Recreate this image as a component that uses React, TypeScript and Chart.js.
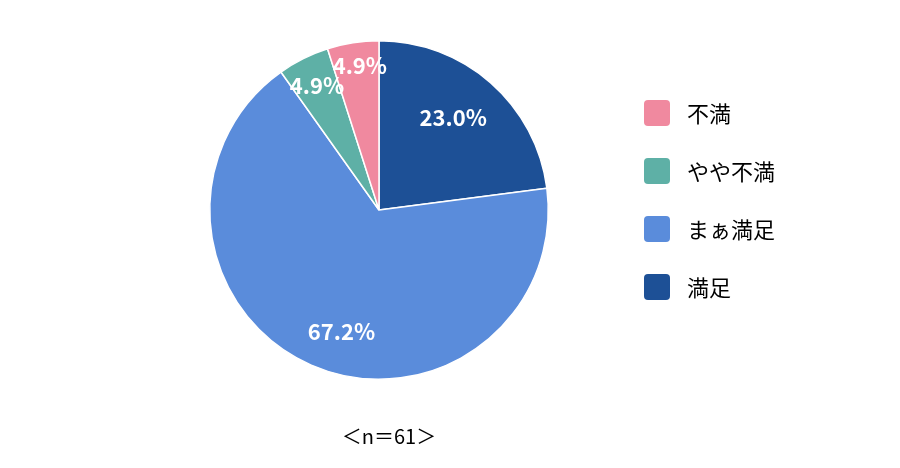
import { useRef, useEffect } from "react";
import { Chart, registerables, Plugin } from "chart.js";

Chart.register(...registerables);

// slices clockwise from 12 o'clock
const categories = ["満足", "まぁ満足", "やや不満", "不満"];
const counts = [14, 41, 3, 3];
const colors = ["#1D5096", "#5A8CDB", "#5EB0A6", "#F0899F"];
const sampleNote = "＜n＝61＞";

// legend is listed bottom-up relative to the data order
const legendOrder = [3, 2, 1, 0];

const FONT = "'Noto Sans CJK JP', 'Noto Sans', sans-serif";

const sliceLabels: Plugin<"pie"> = {
    id: "sliceLabels",
    afterDatasetsDraw(chart) {
        const ctx = chart.ctx;
        const meta = chart.getDatasetMeta(0);
        const total = counts.reduce((a, b) => a + b, 0);
        // label placement tweaks (fraction of radius, degrees)
        const radial = [0.7, 0.75, 0.82, 0.86];
        const shift = [-2.5, -6.4, 0, 1.3];
        ctx.save();
        ctx.fillStyle = "#ffffff";
        ctx.font = `bold 22px ${FONT}`;
        ctx.textAlign = "center";
        ctx.textBaseline = "middle";
        meta.data.forEach((el: any, i) => {
            const mid = (el.startAngle + el.endAngle) / 2 + (shift[i] * Math.PI) / 180;
            const r = el.outerRadius * radial[i];
            const x = el.x + Math.cos(mid) * r;
            const y = el.y + Math.sin(mid) * r;
            ctx.fillText(((counts[i] / total) * 100).toFixed(1) + "%", x, y);
        });
        ctx.restore();
    },
};

const sideLegend: Plugin<"pie"> = {
    id: "sideLegend",
    afterDraw(chart) {
        const ctx = chart.ctx;
        ctx.save();
        legendOrder.forEach((idx, row) => {
            const y = 113 + row * 58;
            ctx.fillStyle = colors[idx];
            ctx.beginPath();
            ctx.roundRect(644, y - 13, 26, 26, 4);
            ctx.fill();
            ctx.fillStyle = "#000000";
            ctx.font = `22px ${FONT}`;
            ctx.textAlign = "left";
            ctx.textBaseline = "middle";
            ctx.fillText(categories[idx], 687, y + 1);
        });
        ctx.font = `20px ${FONT}`;
        ctx.textAlign = "center";
        ctx.fillStyle = "#000000";
        ctx.fillText(sampleNote, 389, 436);
        ctx.restore();
    },
};

export default function App() {
    const canvasRef = useRef<HTMLCanvasElement>(null);
    const chartRef = useRef<Chart<"pie", number[], string> | null>(null);

    useEffect(() => {
        if (canvasRef && canvasRef.current) {
            chartRef.current = new Chart(canvasRef.current, {
                type: "pie",
                data: {
                    labels: categories,
                    datasets: [
                        {
                            data: counts,
                            backgroundColor: colors,
                            borderColor: "#ffffff",
                            borderWidth: 1.5,
                        },
                    ],
                },
                options: {
                    animation: false,
                    responsive: false,
                    layout: { padding: { left: 209, right: 351, top: 40, bottom: 88 } },
                    plugins: {
                        legend: { display: false },
                        tooltip: { enabled: false },
                    },
                },
                plugins: [sliceLabels, sideLegend],
            });
        }

        return () => {
            if (chartRef.current) {
                chartRef.current.destroy();
                chartRef.current = null;
            }
        };
    }, []);

    return (
        <div style={{ position: "fixed", left: 0, top: 0, width: 900, height: 468, background: "#fff" }}>
            <canvas ref={canvasRef} width={900} height={468} />
        </div>
    );
}
